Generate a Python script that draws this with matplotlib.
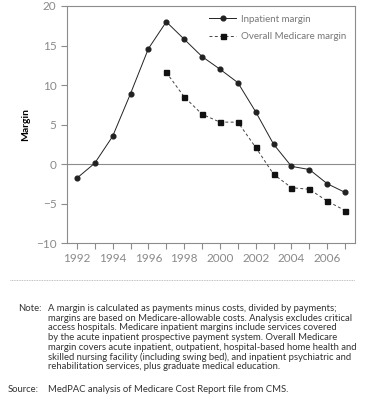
import matplotlib.pyplot as plt
from matplotlib.lines import Line2D

years = list(range(1992, 2008))
inpatient = [-1.8, 0.1, 3.5, 8.9, 14.6, 18.0, 15.8, 13.6, 12.0, 10.3, 6.6, 2.5, -0.3, -0.7, -2.5, -3.6]
years_overall = list(range(1997, 2008))
overall = [11.6, 8.5, 6.3, 5.3, 5.3, 2.1, -1.3, -3.0, -3.2, -4.7, -5.9]

gris = "#8c8c8c"
plt.rcParams['font.family'] = ['Lato', 'DejaVu Sans']

fig = plt.figure(figsize=(3.65, 4.0), dpi=100)
ax = fig.add_axes([67/365, 1-243/400, 288/365, 237/400])

ax.axhline(0, color=gris, lw=0.8, zorder=1)
ax.plot(years, inpatient, color="#222222", lw=0.7, marker="o", ms=3.4,
        label="Inpatient margin", zorder=3)
ax.plot(years_overall, overall, color="#444444", lw=0.7, ls=(0, (3, 2.5)),
        marker="s", ms=3.6, mfc="#111111", mec="#111111",
        label="Overall Medicare margin", zorder=3)

ax.set_xlim(1991.45, 2007.55)
ax.set_ylim(-10, 20)
ax.set_yticks(range(-10, 21, 5))
ax.set_xticks(years)
ax.set_xticklabels([str(y) if y % 2 == 0 else "" for y in years])
for s in ax.spines.values():
    s.set_color(gris)
    s.set_linewidth(0.8)
ax.tick_params(colors=gris, labelcolor="#8a8a8a", labelsize=8.5, length=4, width=0.8)
ax.tick_params(axis="x", pad=3)
ax.set_ylabel("Margin", fontsize=7.5, fontweight="bold", color="black", labelpad=4)

leg = ax.legend(loc="upper right", bbox_to_anchor=(1.0, 1.0), frameon=False,
                fontsize=7, handlelength=2.8, labelspacing=0.9, handletextpad=0.5)
for t in leg.get_texts():
    t.set_color("#777777")

fig.add_artist(Line2D([10/365, 355/365], [1-280/400, 1-280/400], color="#aaaaaa",
                      lw=0.6, ls=(0, (1, 1))))

nota = ("A margin is calculated as payments minus costs, divided by payments;\n"
        "margins are based on Medicare-allowable costs. Analysis excludes critical\n"
        "access hospitals. Medicare inpatient margins include services covered\n"
        "by the acute inpatient prospective payment system. Overall Medicare\n"
        "margin covers acute inpatient, outpatient, hospital-based home health and\n"
        "skilled nursing facility (including swing bed), and inpatient psychiatric and\n"
        "rehabilitation services, plus graduate medical education.")
fs = 6.85
fig.text(18/365, 1-304/400, "Note:", fontsize=fs, va="top", color="#333333")
fig.text(48/365, 1-304/400, nota, fontsize=fs, va="top", color="#333333", linespacing=1.09)
fig.text(8/365, 1-385/400, "Source:", fontsize=fs, va="top", color="#333333")
fig.text(48/365, 1-385/400, "MedPAC analysis of Medicare Cost Report file from CMS.",
         fontsize=fs, va="top", color="#333333")

fig.savefig("out.png", dpi=100)
